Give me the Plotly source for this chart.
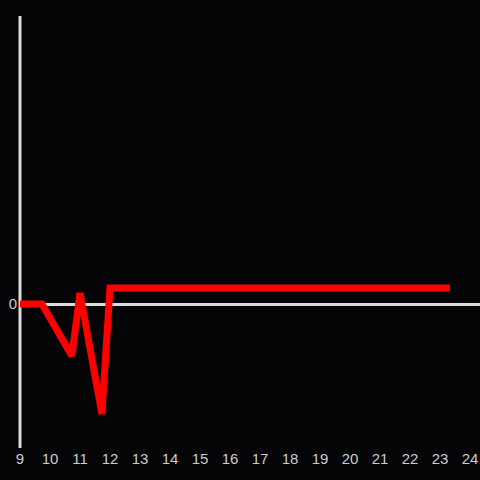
import plotly.graph_objects as go

# time of day (hours) and value
hours = [9.0, 9.73, 10.73, 11.0, 11.73, 12.0, 23.33]
values = [0, 0, -52, 11, -110, 16, 16]
x_ticks = list(range(9, 25))

_BG = "#050407"
_AXIS = "#dcdcdc"
_TEXT = "#cccccc"

fig = go.Figure(
    go.Scatter(
        x=hours,
        y=values,
        mode="lines",
        line=dict(color="#ff0000", width=7),
        hoverinfo="skip",
    )
)

# vertical axis line on the left edge of the plot, under the trace (paper refs -> not clipped)
fig.add_shape(
    type="line", xref="paper", yref="paper", x0=0, x1=0, y0=0, y1=1,
    line=dict(color=_AXIS, width=3), layer="below",
)

fig.update_layout(
    width=480,
    height=480,
    paper_bgcolor=_BG,
    plot_bgcolor="rgba(0,0,0,0)",
    showlegend=False,
    margin=dict(l=20, r=0, t=16, b=32),
    font=dict(family="Liberation Sans, Arial, sans-serif", size=15, color=_TEXT),
)
fig.update_xaxes(
    range=[9, 24.333],
    tickvals=x_ticks,
    showgrid=False,
    zeroline=False,
    showline=False,
    ticks="",
)
fig.update_yaxes(
    range=[-144, 288],
    tickvals=[0],
    showgrid=False,
    zeroline=True,
    zerolinecolor=_AXIS,
    zerolinewidth=3,
    showline=False,
    ticks="",
    ticklabelstandoff=2,
)

fig.write_html(
    "out.html",
    config={"displayModeBar": False},
    post_script="document.body.style.margin='0';document.body.style.background='#050407';",
)
